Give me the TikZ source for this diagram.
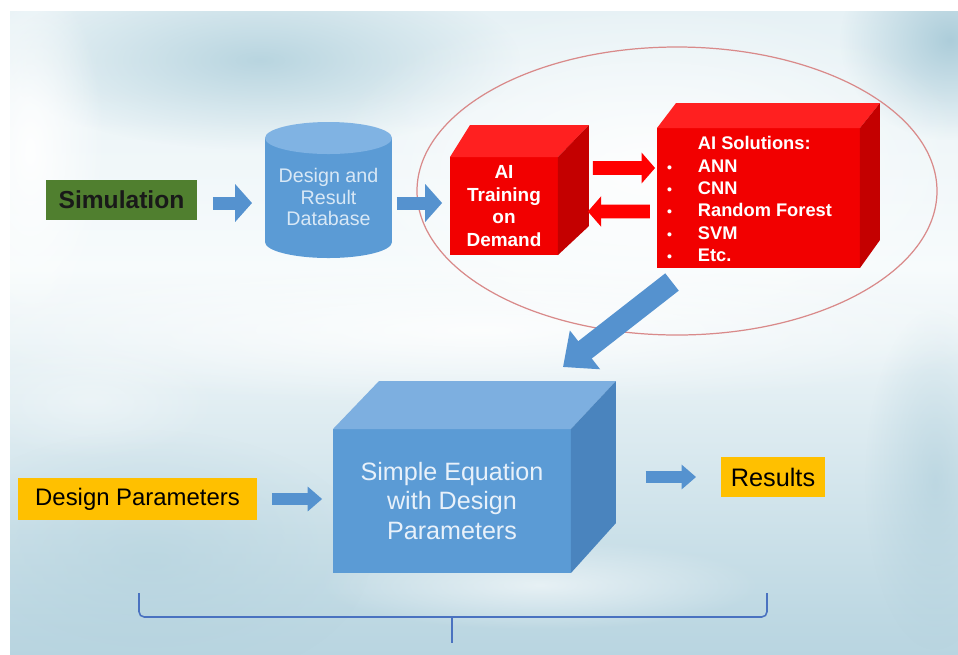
\documentclass[tikz,border=0pt]{standalone}
\usepackage{fontspec}
\setmainfont{Liberation Sans}
\usetikzlibrary{arrows.meta,fadings}
\tikzfading[name=softblob, inner color=transparent!0, outer color=transparent!100]
\definecolor{skyTop}{HTML}{C4DCE5}
\definecolor{skyHi}{HTML}{E6F1F5}
\definecolor{skyMidW}{HTML}{F7FBFC}
\definecolor{skyLow}{HTML}{BCD7E2}
\definecolor{skyBot}{HTML}{97BFD2}
\definecolor{cloudblue}{HTML}{B0D0DC}
\definecolor{cornerblue}{HTML}{A6C9D7}
\definecolor{simgreen}{HTML}{507F2F}
\definecolor{arrblue}{HTML}{5592CF}
\definecolor{cylbody}{HTML}{5B9BD5}
\definecolor{cyltop}{HTML}{80B3E3}
\definecolor{dbtext}{HTML}{D8E8F6}
\definecolor{redfront}{HTML}{F20000}
\definecolor{redtop}{HTML}{FF2020}
\definecolor{redside}{HTML}{C40000}
\definecolor{cubefront}{HTML}{5B9BD5}
\definecolor{cubetop}{HTML}{7DAFE0}
\definecolor{cubeside}{HTML}{4A84BE}
\definecolor{cubetext}{HTML}{E8F1FA}
\definecolor{gold}{HTML}{FFC000}
\definecolor{ellred}{HTML}{D98A8A}
\definecolor{bracecol}{HTML}{4A72C0}
\pgfdeclareverticalshading{sky}{100bp}{color(0bp)=(skyBot); color(27bp)=(skyLow); color(55bp)=(skyMidW); color(75bp)=(skyHi); color(100bp)=(skyTop)}
\begin{document}
\begin{tikzpicture}[x=0.02cm,y=-0.02cm,
  boxnode/.style={inner sep=0pt, outer sep=0pt},
  bluearr/.style={draw=arrblue, line width=7.4pt, -{Triangle[length=9.6pt,width=21pt]}},
  smallblue/.style={draw=arrblue, line width=6.8pt, -{Triangle[length=8.2pt,width=13.6pt]}},
  redarr/.style={draw=red, line width=7.9pt, -{Triangle[length=7.6pt,width=17pt]}},
  bigblue/.style={draw=arrblue, line width=12.5pt, -{Triangle[length=15.9pt,width=27pt]}},
  cloud/.style={path fading=softblob}
]
\useasboundingbox (0,0) rectangle (958,654);
\fill[white] (0,0) rectangle (958,654);
% sky background
\begin{scope}
\clip (10,11) rectangle (958,654);
\shade[shading=sky] (10,11) rectangle (958,654);
\fill[cloudblue, cloud, opacity=0.85] (260,60) ellipse (260 and 90);
\fill[cornerblue, cloud, opacity=0.9] (950,40) ellipse (110 and 100);
\fill[cornerblue, cloud, opacity=0.5] (935,480) ellipse (70 and 170);
\fill[cloudblue, cloud, opacity=0.5] (150,560) ellipse (220 and 130);
\fill[white, cloud, opacity=0.95] (30,150) ellipse (75 and 180);
\fill[white, cloud, opacity=0.9] (650,170) ellipse (330 and 170);
\fill[white, cloud, opacity=0.85] (480,330) ellipse (540 and 75);
\fill[white, cloud, opacity=0.6] (540,585) ellipse (220 and 45);
\fill[white, cloud, opacity=0.35] (90,400) ellipse (130 and 60);
\end{scope}
% ellipse grouping AI part
\draw[ellred, line width=0.7pt] (677,191) ellipse (260 and 144);

% nodes
\node[boxnode, fill=simgreen, minimum width=3.02cm, minimum height=0.8cm,
  font=\fontsize{14}{16}\selectfont\bfseries, text=black!90] (sim) at (121.5,200) {Simulation};

% cylinder
\fill[cylbody] (328.5,242) ellipse (63.5 and 16);
\fill[cylbody] (265,138) rectangle (392,242);
\fill[cyltop] (328.5,138) ellipse (63.5 and 16);
\node[boxnode, minimum width=2.54cm, minimum height=2.72cm, align=center, text=dbtext,
  font=\fontsize{11.2}{12.2}\selectfont] (db) at (328.5,197) {Design and\\Result\\Database};

% AI training cube
\node[boxnode, fill=redfront, minimum width=2.16cm, minimum height=1.96cm, align=center,
  text=white, font=\fontsize{10.8}{13}\selectfont\bfseries] (ait) at (504,206) {AI\\Training\\on\\Demand};
\fill[redtop] (ait.north west) -- ++(20,-32) -- ++(119,0) -- (ait.north east) -- cycle;
\fill[redside] (ait.north east) -- ++(31,-32) -- ++(0,101) -- (ait.south east) -- cycle;

% AI solutions cube
\node[boxnode, fill=redfront, minimum width=4.06cm, minimum height=2.8cm] (ais) at (758.5,198) {};
\fill[redtop] (ais.north west) -- ++(19,-25) -- ++(204,0) -- (ais.north east) -- cycle;
\fill[redside] (ais.north east) -- ++(20,-25) -- ++(0,137) -- (ais.south east) -- cycle;
\node[boxnode, anchor=west, align=left, text=white, font=\fontsize{10.4}{12.7}\selectfont\bfseries]
  (aistext) at (667,199) {\hspace*{17.6pt}AI Solutions:\\
  \makebox[17.6pt][l]{\fontsize{8}{8}\selectfont •}ANN\\
  \makebox[17.6pt][l]{\fontsize{8}{8}\selectfont •}CNN\\
  \makebox[17.6pt][l]{\fontsize{8}{8}\selectfont •}Random Forest\\
  \makebox[17.6pt][l]{\fontsize{8}{8}\selectfont •}SVM\\
  \makebox[17.6pt][l]{\fontsize{8}{8}\selectfont •}Etc.};

% blue cube
\node[boxnode, fill=cubefront, minimum width=4.76cm, minimum height=2.88cm, align=center,
  text=cubetext, font=\fontsize{14.3}{17}\selectfont] (cube) at (452,501) {Simple Equation\\with Design\\Parameters};
\fill[cubetop] (cube.north west) -- ++(46,-48) -- ++(237,0) -- (cube.north east) -- cycle;
\fill[cubeside] (cube.north east) -- ++(45,-48) -- ++(0,142) -- (cube.south east) -- cycle;

\node[boxnode, fill=gold, minimum width=4.78cm, minimum height=0.84cm,
  font=\fontsize{13.6}{15}\selectfont] (dp) at (137.5,499) {Design Parameters};
\node[boxnode, fill=gold, minimum width=2.08cm, minimum height=0.8cm,
  font=\fontsize{14.4}{16}\selectfont] (res) at (773,477) {Results};

% connectors
\coordinate (row) at (0,203);
\draw[bluearr, shorten <=9.1pt, shorten >=7.4pt] (row -| sim.east) -- (row -| db.west);
\draw[bluearr, shorten <=2.8pt, shorten >=4.5pt] (row -| db.east) -- (row -| ait.west);
\draw[redarr, shorten <=19.8pt, shorten >=1.1pt] ([yshift=0.76cm]ait.east) -- ([yshift=0.6cm]ais.west);
\draw[redarr, shorten <=4pt, shorten >=17pt] ([yshift=-0.27cm]ais.west) -- ([yshift=-0.11cm]ait.east);
\draw[bigblue] ([xshift=0.3cm,yshift=-0.28cm]ais.south west) -- ([xshift=2.22cm,yshift=1.24cm]cube.north);
\draw[smallblue, shorten <=8.5pt, shorten >=6.2pt] (dp.east) -- (dp.east -| cube.west);
\draw[smallblue, shorten <=42.5pt, shorten >=14.2pt] (res.west -| cube.east) -- (res.west);

% brace
\draw[bracecol, line width=0.9pt, rounded corners=3pt] (139,593) -- (139,617) -- (767,617) -- (767,593);
\draw[bracecol, line width=0.9pt] (452,617) -- (452,643);
\end{tikzpicture}
\end{document}
